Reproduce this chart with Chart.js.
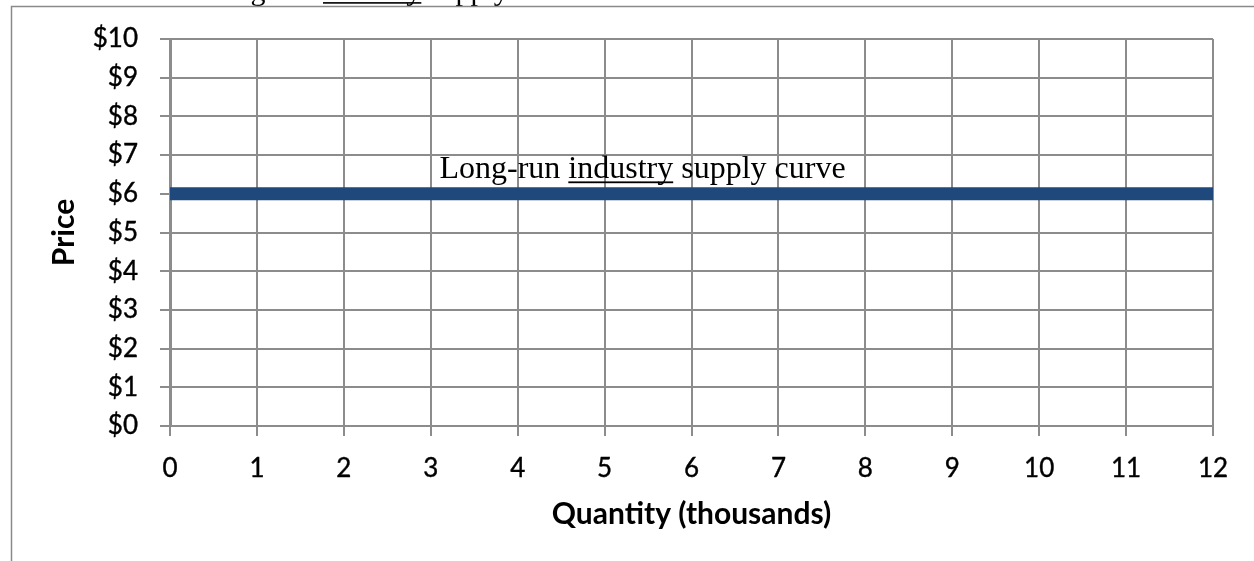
<!DOCTYPE html>
<html>
<head>
<meta charset="utf-8">
<title>Long-run industry supply curve</title>
<script src="https://cdn.jsdelivr.net/npm/chart.js@4/dist/chart.umd.min.js"></script>
<style>
  html, body { margin: 0; padding: 0; background: #ffffff; }
  #wrap { width: 1254px; height: 561px; position: relative; }
</style>
</head>
<body>
<div id="wrap"><canvas id="chart" width="1254" height="561"></canvas></div>
<script>
// Supply curve: quantity (thousands) against price ($)
const quantities = [0, 12];
const prices = [6, 6];

// Axis tick labels
const quantityTicks = ['0', '1', '2', '3', '4', '5', '6', '7', '8', '9', '10', '11', '12'];
const priceTicks = ['$0', '$1', '$2', '$3', '$4', '$5', '$6', '$7', '$8', '$9', '$10'];

// Curve label, split so the middle word can be underlined
const curveLabelParts = ['Long-run ', 'industry', ' supply curve'];
const curveLabelAt = { quantity: 3.1, price: 6 };

// Heading line of the page above the figure (only its lower edge shows)
const headingParts = ['Long-run ', 'industry', ' supply curve'];

const GRID = '#8c8c8c';
const LINE_BLUE = '#1f497d';
const SANS = 'Lato, "Open Sans", sans-serif';
const SERIF = '"Liberation Serif", "Times New Roman", serif';

function drawUnderlinedText(ctx, parts, x, baseline, font, underlineOffset, underlineWidth) {
  ctx.save();
  ctx.font = font;
  ctx.fillStyle = '#000000';
  ctx.textBaseline = 'alphabetic';
  ctx.textAlign = 'left';
  let cx = x;
  parts.forEach((p, i) => {
    const w = ctx.measureText(p).width;
    ctx.fillText(p, cx, baseline);
    if (i === 1) {
      ctx.fillRect(cx, baseline + underlineOffset, w, underlineWidth);
    }
    cx += w;
  });
  ctx.restore();
}

const pageDecor = {
  id: 'pageDecor',
  beforeDraw(chart) {
    const ctx = chart.ctx;
    ctx.save();
    ctx.fillStyle = '#ffffff';
    ctx.fillRect(0, 0, chart.width, chart.height);
    // heading text, mostly above the top edge
    ctx.font = '30px ' + SERIF;
    const lead = ctx.measureText(headingParts[0]).width;
    drawUnderlinedText(ctx, headingParts, 323 - lead, -0.5, '30px ' + SERIF, 2.6, 1.6);
    // frame around the figure
    ctx.strokeStyle = '#8a8a8a';
    ctx.lineWidth = 1.5;
    ctx.beginPath();
    ctx.moveTo(11.5, chart.height + 2);
    ctx.lineTo(11.5, 6.5);
    ctx.lineTo(chart.width + 2, 6.5);
    ctx.stroke();
    ctx.restore();
  }
};

const curveLabel = {
  id: 'curveLabel',
  afterDatasetsDraw(chart) {
    const x = chart.scales.x.getPixelForValue(curveLabelAt.quantity);
    const y = chart.scales.y.getPixelForValue(curveLabelAt.price) - 16;
    drawUnderlinedText(chart.ctx, curveLabelParts, x, y, '32px ' + SERIF, 3.6, 1.8);
  }
};

const tickFont = { family: SANS, size: 26 };

new Chart(document.getElementById('chart'), {
  type: 'line',
  data: {
    datasets: [{
      label: 'Long-run industry supply curve',
      data: quantities.map((q, i) => ({ x: q, y: prices[i] })),
      borderColor: LINE_BLUE,
      backgroundColor: LINE_BLUE,
      borderWidth: 13,
      borderCapStyle: 'butt',
      pointRadius: 0,
      pointHoverRadius: 0,
      tension: 0,
      clip: 8
    }]
  },
  options: {
    responsive: false,
    animation: false,
    events: [],
    layout: { padding: { top: 39, right: 41, left: 0, bottom: 0 } },
    plugins: {
      legend: { display: false },
      tooltip: { enabled: false },
      title: { display: false }
    },
    scales: {
      x: {
        type: 'linear',
        min: 0,
        max: 12,
        afterFit(scale) { scale.height = 135; },
        ticks: {
          stepSize: 1,
          padding: 17,
          color: '#000000',
          textStrokeColor: '#000000',
          textStrokeWidth: 0.4,
          font: tickFont,
          callback: (v, i) => quantityTicks[i]
        },
        grid: { color: GRID, lineWidth: 2, tickLength: 10, tickColor: GRID },
        border: { display: true, color: GRID, width: 2 },
        title: {
          display: true,
          text: 'Quantity (thousands)',
          color: '#000000',
          font: { family: SANS, size: 30, weight: 'bold' },
          padding: { top: 0, bottom: 29 }
        }
      },
      y: {
        type: 'linear',
        min: 0,
        max: 10,
        afterFit(scale) { scale.width = 170; },
        ticks: {
          stepSize: 1,
          padding: 22,
          color: '#000000',
          textStrokeColor: '#000000',
          textStrokeWidth: 0.4,
          font: tickFont,
          callback: (v, i) => priceTicks[i]
        },
        grid: { color: GRID, lineWidth: 2, tickLength: 10, tickColor: GRID },
        border: { display: true, color: GRID, width: 3 },
        title: {
          display: true,
          text: 'Price',
          color: '#000000',
          font: { family: SANS, size: 30, weight: 'bold' },
          padding: { top: 46, bottom: 0 }
        }
      }
    }
  },
  plugins: [pageDecor, curveLabel]
});
</script>
</body>
</html>
